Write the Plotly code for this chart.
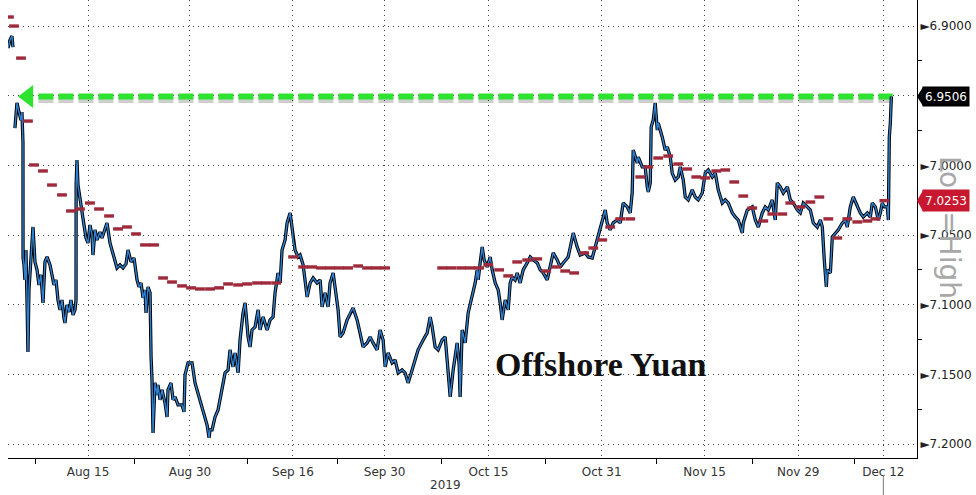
import plotly.graph_objects as go

# ---------------- data (x = trading-day index, Aug 15 2019 = 0) ----------------
price_t = [-8.55, -8.34, -8.13, -8.02, None,
    -7.81, -7.70, -7.59, -7.38, -7.27, -7.16, -7.06, -6.95, -6.94, -6.84, -6.74, -6.63, -6.52, -6.42, -6.31,
    -6.09, -5.88, -5.77, -5.67, -5.45, -5.24, -5.03, -4.81, -4.60, -4.38, -4.06, -3.85, -3.64, -3.42, -3.21,
    -2.99, -2.78, -2.57, -2.46, -2.25, -2.03, -1.82, -1.60, -1.39, -1.28, -1.27, -1.18, -1.07, -0.86, -0.64,
    -0.43, -0.21, 0.00, 0.21, 0.43, 0.53, 0.75, 0.96, 1.28, 1.50, 1.82, 2.03, 2.35, 2.57, 2.89, 3.10, 3.42,
    3.74, 4.06, 4.28, 4.60, 4.92, 5.24, 5.45, 5.67, 5.88, 6.09, 6.20, 6.42, 6.63, 6.74, 6.84, 6.95, 7.16,
    7.38, 7.48, 7.70, 7.91, 8.23, 8.45, 8.55, 8.87, 9.09, 9.30, 9.62, 10.05, 10.26, 10.37, 10.69, 11.12,
    11.44, 11.76, 11.98, 12.30, 12.51, 12.72, 12.94, 13.04, 13.26, 13.58, 13.90, 14.33, 14.65, 14.97, 15.18,
    15.50, 15.72, 16.04, 16.25, 16.57, 16.79, 17.11, 17.32, 17.53, 17.86, 18.18, 18.39, 18.71, 19.14, 19.46,
    19.78, 19.99, 20.31, 20.53, 20.74, 21.06, 21.28, 21.60, 21.81, 21.92, 22.13, 22.45, 22.67, 22.99, 23.20,
    23.42, 23.74, 24.06, 24.48, 24.81, 25.02, 25.34, 25.66, 25.87, 26.20, 26.41, 26.73, 26.94, 27.26, 27.69,
    28.01, 28.33, 28.76, 29.08, 29.40, 29.83, 30.15, 30.47, 30.90, 31.22, 31.54, 31.76, 32.08, 32.50, 32.82,
    33.15, 33.57, 33.89, 34.21, 34.64, 34.96, 35.28, 35.82, 36.25, 36.57, 36.78, 37.10, 37.42, 37.85, 38.17,
    38.38, 38.71, 39.03, 39.45, 39.67, 39.77, 39.99, 40.31, 40.63, 41.06, 41.38, 41.59, 41.70, 41.91, 42.13,
    42.34, 42.66, 42.98, 43.20, 43.52, 43.84, 44.05, 44.26, 44.59, 44.91, 45.12, 45.33, 45.65, 45.87, 46.19,
    46.51, 46.94, 47.26, 47.58, 48.01, 48.33, 48.65, 49.08, 49.40, 49.72, 50.15, 50.47, 50.79, 51.32, 51.64,
    51.86, 52.28, 52.60, 53.14, 53.46, 53.89, 54.21, 54.53, 54.96, 55.28, 55.49, 55.81, 56.13, 56.56, 56.88,
    57.20, 57.63, 57.95, 58.16, 58.27, 58.70, 58.81, 59.23, 59.55, 59.77, 59.88, 60.09, 60.19, 60.41, 60.62,
    60.84, 60.94, 61.37, 61.69, 61.91, 62.23, 62.44, 62.76, 63.08, 63.30, 63.62, 63.83, 64.15, 64.58, 64.90,
    65.22, 65.65, 65.76, 65.97, 66.29, 66.72, 67.04, 67.36, 67.79, 68.11, 68.43, 68.86, 69.18, 69.50, 69.93,
    70.03, 70.46, 70.99, 71.32, 71.64, 72.06, 72.38, 72.71, 73.13, 73.45, 73.67, 73.99, 74.31, 74.74, 75.06,
    75.38, 75.81, 76.13, 76.45, 76.88, 77.20, 77.52, 77.94, 78.27, 78.48, 78.69, 78.91, 79.01, 79.34, 79.55,
    79.87, 80.19, 80.62, 80.94, 81.15, 81.47, 81.79, 82.22, 82.54, 82.86, 83.29, 83.61, 83.82, 84.15, 84.47,
    84.68, 84.89, 85.11, 85.43, 85.54, 85.64, 85.75, 85.86]
price_v = [6.9158, 6.9100, 6.9072, 6.9151, None,
    6.9732, 6.9603, 6.9552, 6.9617, 6.9660, 6.9674, 6.9617, 6.9839, 7.0664, 7.0714, 7.0822, 7.0607, 7.0966, 7.1339, 7.0894,
    7.0643, 7.0442, 7.0571, 7.0693, 7.0750, 7.0858, 7.0786, 7.0987, 7.0693, 7.0657, 7.0714, 7.0786, 7.0858, 7.0822, 7.0966,
    7.1037, 7.0966, 7.1095, 7.1131, 7.1001, 7.1052, 7.0966, 7.1073, 7.1037, 7.0966, 7.0141, 6.9961, 7.0141, 7.0248, 7.0356,
    7.0428, 7.0521, 7.0557, 7.0428, 7.0500, 7.0643, 7.0463, 7.0535, 7.0478, 7.0521, 7.0463, 7.0413, 7.0557, 7.0607, 7.0693, 7.0736, 7.0714,
    7.0736, 7.0707, 7.0607, 7.0693, 7.0664, 7.0822, 7.0872, 7.0844, 7.0951, 7.0894, 7.1059, 7.0872, 7.0915, 7.1374, 7.1539, 7.1920, 7.1561,
    7.1647, 7.1575, 7.1683, 7.1611, 7.1704, 7.1805, 7.1611, 7.1561, 7.1683, 7.1661, 7.1719, 7.1719, 7.1769, 7.1504, 7.1417, 7.1417,
    7.1561, 7.1633, 7.1683, 7.1755, 7.1805, 7.1862, 7.1955, 7.1898, 7.1898, 7.1805, 7.1755, 7.1590, 7.1489, 7.1468, 7.1324,
    7.1446, 7.1346, 7.1489, 7.1253, 7.1059, 7.0987, 7.1231, 7.1303, 7.1181, 7.1159, 7.1037, 7.1181, 7.1088, 7.1181, 7.1109,
    7.1088, 7.0915, 7.0772, 7.0844, 7.0607, 7.0535, 7.0413, 7.0341, 7.0442, 7.0535, 7.0607, 7.0657, 7.0643, 7.0714, 7.0822,
    7.0944, 7.0844, 7.0808, 7.0844, 7.0822, 7.1016, 7.0915, 7.1016, 7.0844, 7.0772, 7.0894, 7.1037, 7.1231, 7.1202, 7.1109,
    7.1059, 7.1023, 7.1109, 7.1202, 7.1303, 7.1274, 7.1231, 7.1274, 7.1324, 7.1181, 7.1253, 7.1446, 7.1346, 7.1417, 7.1396,
    7.1489, 7.1468, 7.1489, 7.1561, 7.1468, 7.1396, 7.1324, 7.1253, 7.1202, 7.1088, 7.1159, 7.1303, 7.1324, 7.1253, 7.1231,
    7.1396, 7.1661, 7.1468, 7.1274, 7.1432, 7.1661, 7.1181, 7.1274, 7.1059, 7.0944, 7.0844, 7.0750, 7.0822, 7.0700, 7.0585,
    7.0679, 7.0729, 7.0657, 7.0750, 7.0844, 7.0894, 7.0987, 7.1109, 7.0966, 7.1037, 7.0844, 7.0801, 7.0822, 7.0772, 7.0844,
    7.0750, 7.0700, 7.0657, 7.0679, 7.0700, 7.0750, 7.0772, 7.0822, 7.0729, 7.0628, 7.0679, 7.0729, 7.0700, 7.0657, 7.0557,
    7.0485, 7.0585, 7.0643, 7.0628, 7.0657, 7.0664, 7.0585, 7.0514, 7.0413, 7.0320, 7.0413, 7.0463, 7.0413, 7.0392, 7.0413,
    7.0270, 7.0298, 7.0341, 7.0198, 6.9890, 6.9983, 6.9940, 7.0011, 7.0011, 7.0155, 7.0191, 7.0126, 6.9725, 6.9674, 6.9552,
    6.9746, 6.9696, 6.9796, 6.9890, 6.9868, 6.9940, 7.0055, 7.0105, 7.0083, 7.0011, 7.0105, 7.0227, 7.0248, 7.0176, 7.0227,
    7.0248, 7.0198, 7.0155, 7.0055, 7.0033, 7.0083, 7.0055, 7.0176, 7.0270, 7.0248, 7.0270, 7.0341, 7.0370, 7.0392, 7.0485,
    7.0413, 7.0320, 7.0298, 7.0392, 7.0442, 7.0341, 7.0298, 7.0320, 7.0248, 7.0392, 7.0126, 7.0155, 7.0198, 7.0155, 7.0248,
    7.0270, 7.0320, 7.0341, 7.0270, 7.0298, 7.0320, 7.0413, 7.0442, 7.0392, 7.0442, 7.0679, 7.0872, 7.0750, 7.0772, 7.0514,
    7.0485, 7.0463, 7.0413, 7.0392, 7.0442, 7.0298, 7.0227, 7.0298, 7.0341, 7.0370, 7.0341, 7.0370, 7.0270, 7.0298, 7.0392,
    7.0341, 7.0270, 7.0298, 7.0298, 7.0392, 6.9796, 6.9696, 6.9506]

# daily fixing (dark red dashes)
fix_t = [-8.45, -7.91, -7.16, -6.42, -5.77, -4.81, -3.85, -2.78, -1.82, -0.86, 0.21, 1.18, 2.25, 3.21, 4.17,
    5.13, 6.09, 7.06, 8.02, 8.98, 10.05, 11.01, 11.97, 13.04, 14.01, 14.97, 16.04, 17.00, 18.07, 19.03, 20.10,
    21.92, 22.99, 23.95, 24.91, 25.87, 26.84, 27.80, 28.87, 29.83, 30.79, 31.75,
    37.85, 38.81, 39.88, 40.84, 41.80, 42.77, 43.94, 44.91, 45.87, 46.94, 48.01, 48.97, 50.04, 51.00, 51.96,
    53.03, 54.00, 54.96, 55.81, 56.88, 57.95, 59.02, 59.88, 60.94, 62.01, 63.08, 64.04, 65.01, 65.97, 67.15,
    68.11, 69.07, 70.03, 70.99, 72.17, 73.13, 74.20, 75.06, 76.13, 77.20, 78.16, 79.12, 80.08, 81.15, 82.22,
    83.29, 84.15, 85.11]
fix_v = [6.8935, 6.9000, 6.9230, 6.9682, 6.9997, 7.0040, 7.0141, 7.0212, 7.0327, 7.0313, 7.0270, 7.0313, 7.0363, 7.0456, 7.0442,
    7.0492, 7.0571, 7.0571, 7.0808, 7.0837, 7.0865, 7.0879, 7.0887, 7.0887, 7.0879, 7.0851, 7.0858, 7.0851, 7.0844, 7.0844, 7.0844,
    7.0657, 7.0729, 7.0729, 7.0736, 7.0736, 7.0736, 7.0736, 7.0722, 7.0736, 7.0736, 7.0736,
    7.0736, 7.0736, 7.0736, 7.0736, 7.0736, 7.0714, 7.0750, 7.0793, 7.0693, 7.0679, 7.0671, 7.0758, 7.0729, 7.0758, 7.0772,
    7.0628, 7.0593, 7.0535, 7.0442, 7.0384, 7.0384, 7.0083, 7.0011, 6.9947, 6.9933, 6.9990, 7.0026, 7.0083, 7.0090, 7.0040,
    7.0033, 7.0119, 7.0220, 7.0306, 7.0399, 7.0349, 7.0349, 7.0270, 7.0298, 7.0263, 7.0227, 7.0384, 7.0521, 7.0384, 7.0406,
    7.0399, 7.0384, 7.0253]

tick_pos = [0, 10.9, 21.9, 31.7, 42.8, 54.9, 65.9, 75.9, 85.0]
tick_text = ["Aug 15", "Aug 30", "Sep 16", "Sep 30", "Oct 15", "Oct 31", "Nov 15", "Nov 29", "Dec 12"]
minor_pos = [-5.6, 5.0, 17.0, 26.7, 37.8, 48.9, 60.8, 71.0, 81.9]
y_ticks = [6.90, 6.95, 7.00, 7.05, 7.10, 7.15, 7.20]
last_price = 6.9506
last_fix = 7.0253
arrow_tip_t = -6.4
green_span = [-5.3, 86.0]
x_range = [-8.55, 88.6]
y_range = [7.2100, 6.8813]

# ---------------- figure ----------------
GREEN = "#2fe22f"
BLUE = "#2f80d0"
FIX = "#9e2a3b"
RED_LBL = "#c8182f"

fig = go.Figure()

# green marker line with shadow
fig.add_trace(go.Scatter(x=green_span, y=[last_price + 0.0024] * 2, mode="lines",
                         line=dict(color="rgba(80,80,80,0.28)", width=6, dash="15px,5px"),
                         hoverinfo="skip", showlegend=False))
fig.add_trace(go.Scatter(x=green_span, y=[last_price] * 2, mode="lines",
                         line=dict(color=GREEN, width=6, dash="15px,5px"),
                         hoverinfo="skip", showlegend=False))
fig.add_trace(go.Scatter(x=[arrow_tip_t], y=[last_price], mode="markers",
                         marker=dict(symbol="triangle-left", size=20, color=GREEN),
                         hoverinfo="skip", showlegend=False))

# price
fig.add_trace(go.Scatter(x=price_t, y=price_v, mode="lines", connectgaps=False,
                         line=dict(color="#000000", width=3.3), showlegend=False))
fig.add_trace(go.Scatter(x=price_t, y=price_v, mode="lines", connectgaps=False,
                         line=dict(color=BLUE, width=1.4), showlegend=False))

# fixing dashes
fig.add_trace(go.Scatter(x=fix_t, y=fix_v, mode="markers",
                         marker=dict(symbol="line-ew", size=7, line=dict(color=FIX, width=3.4)),
                         showlegend=False))

grid = dict(showgrid=True, gridcolor="#444444", gridwidth=1, griddash="1px,4px")

# the 6.9500 label sits under the last-price tag, as in the source
y_text = ["" if abs(v - 6.95) < 1e-9 else "\u25BA" + f"{v:.4f}" for v in y_ticks]

fig.update_layout(
    width=976, height=495,
    margin=dict(l=8, r=59, t=0, b=37, autoexpand=False),
    paper_bgcolor="white", plot_bgcolor="white",
    font=dict(family="DejaVu Sans", size=12, color="#333333"),
    xaxis=dict(range=x_range, tickmode="array", tickvals=tick_pos, ticktext=tick_text,
               ticks="", showline=True, linecolor="#000000", linewidth=1, zeroline=False,
               tickfont=dict(size=12, color="#333333"), ticklabelstandoff=3,
               minor=dict(tickmode="array", tickvals=minor_pos, ticks="outside", ticklen=5,
                          tickcolor="#000000", showgrid=False),
               **grid),
    yaxis=dict(range=y_range, side="right", tickmode="array", tickvals=y_ticks,
               ticktext=y_text, ticks="",
               showline=True, linecolor="#000000", linewidth=1, zeroline=False,
               tickfont=dict(size=12, color="#222222"), ticklabelstandoff=0,
               minor=dict(tick0=6.925, dtick=0.05, ticks="outside", ticklen=4,
                          tickcolor="#000000", showgrid=False),
               **grid),
    showlegend=False,
)

px_y = (y_range[0] - y_range[1]) / 458.0
px_x = 1.0 / 909.0

# label tips (pointing to the axis)
for val, col, h in [(last_price, "#000000", 9.5), (last_fix, RED_LBL, 10.5)]:
    fig.add_shape(type="path", xref="paper", yref="y", layer="above",
                  path=f"M 1,{val} L {1 + 6 * px_x},{val - h * px_y} L {1 + 8 * px_x},{val - h * px_y} "
                       f"L {1 + 8 * px_x},{val + h * px_y} L {1 + 6 * px_x},{val + h * px_y} Z",
                  fillcolor=col, line=dict(width=0))

# gray side caption
fig.add_annotation(xref="paper", yref="paper", x=1, xshift=33, y=1 - 227 / 458, text="Low=High",
                   textangle=90, showarrow=False, xanchor="center", yanchor="middle",
                   font=dict(family="DejaVu Sans", size=28, color="#a8a8a8"))

# value labels
fig.add_annotation(xref="paper", yref="y", x=1, xshift=5, y=last_price, text=f"{last_price:.4f}",
                   showarrow=False, xanchor="left", yanchor="middle", bgcolor="#000000",
                   width=44, height=17, borderpad=1, font=dict(family="DejaVu Sans", size=12, color="white"))
fig.add_annotation(xref="paper", yref="y", x=1, xshift=5, y=last_fix, text=f"{last_fix:.4f}",
                   showarrow=False, xanchor="left", yanchor="middle", bgcolor=RED_LBL,
                   width=44, height=19, borderpad=1, font=dict(family="DejaVu Sans", size=12, color="white"))

# title text
fig.add_annotation(xref="paper", yref="paper", x=(600 - 8) / 909, y=(458 - 364) / 458,
                   text="<b>Offshore Yuan</b>", showarrow=False, xanchor="center", yanchor="middle",
                   font=dict(family="Liberation Serif", size=34, color="#111111"))

# year label
fig.add_annotation(xref="paper", yref="paper", x=(445 - 8) / 909, y=(458 - 485) / 458, text="2019",
                   showarrow=False, xanchor="center", yanchor="middle",
                   font=dict(family="DejaVu Sans", size=12, color="#333333"))

# small marker under last date
fig.add_shape(type="line", xref="x", yref="paper", x0=tick_pos[-1], x1=tick_pos[-1],
              y0=(458 - 475) / 458, y1=(458 - 495) / 458, line=dict(color="#777777", width=1))

fig.write_html("out.html", config={"displayModeBar": False},
               post_script="document.body.style.margin='0';document.body.style.overflow='hidden';")
